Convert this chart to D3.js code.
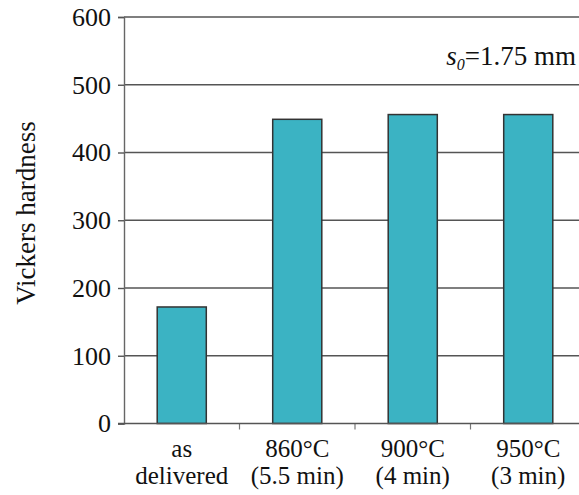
<!DOCTYPE html>
<html>
<head>
<meta charset="utf-8">
<script src="https://cdn.jsdelivr.net/npm/d3@7"></script>
<style>
  body { margin: 0; background: #fff; }
  svg { display: block; font-family: "Liberation Serif", "DejaVu Serif", serif; }
</style>
</head>
<body>
<svg width="579" height="495"></svg>
<script>
const categories = ['as|delivered', '860°C|(5.5 min)', '900°C|(4 min)', '950°C|(3 min)']
const hardness = [172, 449, 456, 456]
const yTicks = [0, 100, 200, 300, 400, 500, 600]

const margin = {top: 17, left: 124, bottom: 71}
const height = 495
const step = 115.5

const svg = d3.select('svg')

const x = d3.scaleBand()
  .domain(categories)
  .range([margin.left, margin.left + step * categories.length])
  .paddingInner(0.575)
  .paddingOuter(0.2875)

const y = d3.scaleLinear()
  .domain([0, 600])
  .range([height - margin.bottom - 0.5, margin.top])

// gridlines
svg.append('g')
  .selectAll('line')
  .data(yTicks.filter(d => d > 0))
  .join('line')
  .attr('x1', margin.left)
  .attr('x2', 579)
  .attr('y1', d => y(d))
  .attr('y2', d => y(d))
  .attr('stroke', '#555')
  .attr('stroke-width', 1.4)

// bars
svg.append('g')
  .selectAll('rect')
  .data(categories)
  .join('rect')
  .attr('x', d => x(d))
  .attr('y', (d, i) => y(hardness[i]))
  .attr('width', x.bandwidth())
  .attr('height', (d, i) => y(0) - y(hardness[i]))
  .attr('fill', '#3bb3c3')
  .attr('stroke', '#333')
  .attr('stroke-width', 1.5)

// y axis
const yAxis = svg.append('g')
  .attr('transform', `translate(${margin.left},0)`)
  .call(d3.axisLeft(y).tickValues(yTicks).tickSize(6).tickPadding(7))
yAxis.attr('font-family', null).attr('font-size', null)
yAxis.select('.domain').attr('stroke', '#666').attr('stroke-width', 1.4)
yAxis.selectAll('.tick line').attr('stroke', '#555').attr('stroke-width', 1.4)
yAxis.selectAll('.tick text')
  .attr('font-size', 26)
  .attr('fill', '#111')

// x axis with ticks at band boundaries
const xAxis = svg.append('g')
svg.append('line')
  .attr('x1', margin.left - 6).attr('x2', 579)
  .attr('y1', y(0)).attr('y2', y(0))
  .attr('stroke', '#555').attr('stroke-width', 1.4)
xAxis.selectAll('line.tick')
  .data(categories.slice(1))
  .join('line')
  .attr('class', 'tick')
  .attr('x1', d => x(d) - x.step() * x.paddingInner() / 2)
  .attr('x2', d => x(d) - x.step() * x.paddingInner() / 2)
  .attr('y1', y(0))
  .attr('y2', y(0) + 6)
  .attr('stroke', '#777')
  .attr('stroke-width', 1.2)

// two-line category labels, one text per line
categories.forEach(d => {
  d.split('|').forEach((p, i) => {
    svg.append('text')
      .attr('x', x(d) + x.bandwidth() / 2)
      .attr('y', 457 + i * 27)
      .attr('text-anchor', 'middle')
      .attr('font-size', 25)
      .attr('fill', '#111')
      .text(p)
  })
})

// y title
svg.append('text')
  .attr('transform', 'translate(35,213) rotate(-90)')
  .attr('text-anchor', 'middle')
  .attr('font-size', 27)
  .attr('fill', '#111')
  .text('Vickers hardness')

// thickness note
const note = svg.append('text')
  .attr('x', 576)
  .attr('y', 65)
  .attr('text-anchor', 'end')
  .attr('font-size', 27)
  .attr('fill', '#111')
note.append('tspan').attr('font-style', 'italic').text('s')
note.append('tspan').attr('font-style', 'italic').attr('font-size', 16).attr('dy', 5).text('0')
note.append('tspan').attr('dy', -5).text('=1.75 mm')
</script>
</body>
</html>
